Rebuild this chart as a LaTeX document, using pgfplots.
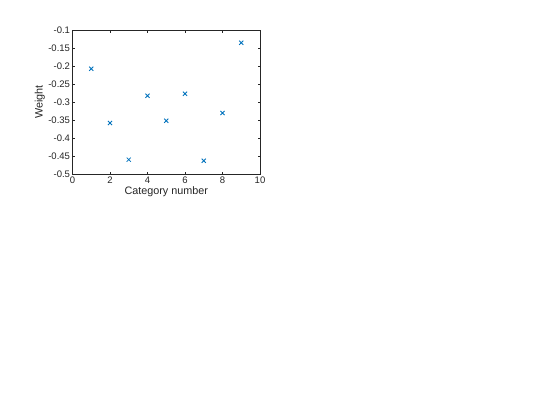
\documentclass[border=0pt]{standalone}
\usepackage{pgfplots}
\pgfplotsset{compat=1.18}
\usepackage{fontspec}
\setmainfont{Liberation Sans}
\definecolor{mblue}{rgb}{0,0.447,0.741}
\definecolor{axgray}{rgb}{0.15,0.15,0.15}
\begin{document}
\begin{tikzpicture}
\path[use as bounding box, fill=white] (-72.5bp,-246bp) rectangle (487.5bp,174bp);
\begin{axis}[
  scale only axis,
  width=187.5bp, height=143.5bp,
  xmin=0, xmax=10, ymin=-0.5, ymax=-0.1,
  xtick={0,2,...,10},
  ytick={-0.5,-0.45,...,-0.1},
  yticklabels={-0.5,-0.45,-0.4,-0.35,-0.3,-0.25,-0.2,-0.15,-0.1},
  /pgf/number format/assume math mode=true,
  axis line style={axgray, line width=0.5pt},
  tick style={axgray, line width=0.5pt},
  major tick length=2.2bp,
  tick align=inside,
  ticklabel style={font=\fontsize{9.5bp}{11bp}\selectfont, text=axgray},
  xticklabel style={yshift=1bp},
  yticklabel style={xshift=1bp},
  label style={font=\fontsize{10.8bp}{12bp}\selectfont, text=axgray},
  xlabel={Category number},
  ylabel={Weight},
  xlabel style={yshift=3bp},
  ylabel style={yshift=-3.5bp},
]
\addplot[only marks, mark=x, mark size=2.9bp, color=mblue, line width=0.8pt]
coordinates {
(1,-0.2067) (2,-0.358) (3,-0.460) (4,-0.282) (5,-0.3515)
(6,-0.2763) (7,-0.4629) (8,-0.330) (9,-0.1343)
};
\end{axis}
\end{tikzpicture}
\end{document}
